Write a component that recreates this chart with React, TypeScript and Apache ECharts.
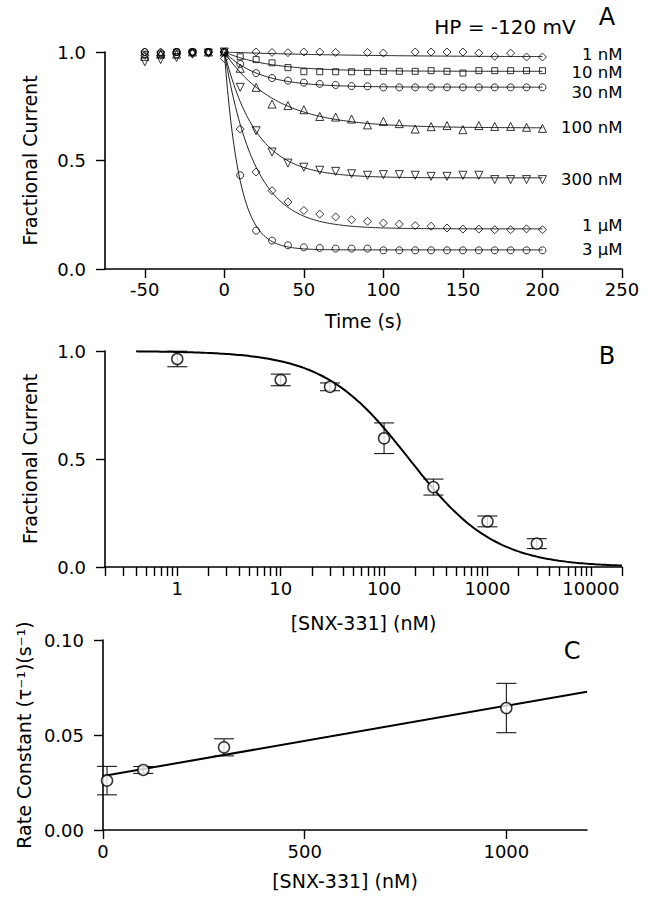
import React, { useEffect, useRef } from 'react';
import * as echarts from 'echarts';

const FONT = '"DejaVu Sans", "Liberation Sans", sans-serif';

// ---------- Panel A: fractional current vs time ----------
const times = [-50, -40, -30, -20, -10, 0, 10, 20, 30, 40, 50, 60, 70, 80, 90, 100, 110, 120, 130, 140, 150, 160, 170, 180, 190, 200];
const concNames = ['1 nM', '10 nM', '30 nM', '100 nM', '300 nM', '1 µM', '3 µM'];
const frac1nM = [1.0, 1.0, 1.0, 1.0, 1.0, 1.0, 1.005, 1.0, 0.998, 0.997, 1.0, 1.0, 0.998, 1.002, 0.998, 0.995, 1.008, 1.0, 1.0, 1.0, 1.0, 0.995, 0.98, 0.995, 0.977, 0.977];
const frac10nM = [0.99, 0.99, 1.0, 1.0, 1.0, 1.0, 0.978, 0.965, 0.95, 0.928, 0.909, 0.909, 0.909, 0.909, 0.909, 0.911, 0.911, 0.911, 0.914, 0.911, 0.903, 0.914, 0.914, 0.914, 0.914, 0.914];
const frac30nM = [1.01, 1.01, 1.0, 1.0, 1.0, 1.0, 0.945, 0.903, 0.88, 0.868, 0.859, 0.853, 0.848, 0.843, 0.842, 0.837, 0.837, 0.837, 0.837, 0.837, 0.837, 0.837, 0.837, 0.837, 0.837, 0.837];
const frac100nM = [0.98, 0.99, 0.99, 1.0, 1.0, 1.0, 0.925, 0.837, 0.76, 0.753, 0.734, 0.703, 0.7, 0.691, 0.664, 0.68, 0.67, 0.645, 0.656, 0.661, 0.642, 0.661, 0.657, 0.657, 0.653, 0.648];
const frac300nM = [0.955, 0.965, 0.975, 0.99, 0.995, 1.0, 0.837, 0.637, 0.539, 0.488, 0.469, 0.455, 0.45, 0.439, 0.432, 0.435, 0.435, 0.432, 0.427, 0.427, 0.432, 0.432, 0.412, 0.412, 0.412, 0.412];
const frac1uM = [0.985, 0.985, 1.0, 0.995, 1.0, 0.97, 0.645, 0.447, 0.361, 0.309, 0.27, 0.253, 0.24, 0.227, 0.22, 0.212, 0.207, 0.2, 0.197, 0.189, 0.184, 0.184, 0.181, 0.181, 0.185, 0.181];
const frac3uM = [1.0, 0.995, 0.99, 1.0, 1.0, 1.0, 0.432, 0.177, 0.131, 0.109, 0.1, 0.097, 0.094, 0.094, 0.094, 0.086, 0.086, 0.086, 0.086, 0.086, 0.086, 0.086, 0.086, 0.086, 0.086, 0.086];
const fracSeries = [frac1nM, frac10nM, frac30nM, frac100nM, frac300nM, frac1uM, frac3uM];
// single-exponential fit parameters
const fitPlateau = [0.977, 0.911, 0.838, 0.65, 0.42, 0.185, 0.088];
const fitTau = [80, 28, 22, 32, 20, 19, 9.5];
const aXTicks = [-50, 0, 50, 100, 150, 200, 250];

// ---------- Panel B: concentration-response ----------
const bConc = [1, 10, 30, 100, 300, 1000, 3000];
const bFrac = [0.963, 0.866, 0.834, 0.596, 0.37, 0.211, 0.108];
const bErr = [0.036, 0.027, 0.018, 0.071, 0.037, 0.025, 0.023];
const hillIC50 = 175;
const hillN = 1.05;
const bXLabels = [1, 10, 100, 1000, 10000];
const bXTicks = [0.2, 0.3, 0.4, 0.5, 0.6, 0.7, 0.8, 0.9, 1, 2, 3, 4, 5, 6, 7, 8, 9, 10, 20, 30, 40, 50, 60, 70, 80, 90, 100, 200, 300, 400, 500, 600, 700, 800, 900, 1000, 2000, 3000, 4000, 5000, 6000, 7000, 8000, 9000, 10000, 20000];

// ---------- Panel C: rate constant ----------
const cConc = [10, 100, 300, 1000];
const cRate = [0.026, 0.0316, 0.0435, 0.0642];
const cErr = [0.0075, 0.0018, 0.0045, 0.013];
const cIntercept = 0.0284;
const cSlope = 3.7e-5;
const cXTicks = [0, 500, 1000];

// style-only settings
const aSymbols = ['diamond', 'rect', 'circle', 'triangle', 'triangle', 'diamond', 'circle'];
const aSymbolRotate = [0, 0, 0, 0, 180, 0, 0];
const aSymbolSize = [8, 6, 7, 8, 8, 8, 7];
const aLabelDy = [-2, 1, 5, 0, 2, -3, 0];

function expCurve(plateau: number, tau: number) {
  const pts: number[][] = [];
  for (let t = 0; t <= 200; t += 1) pts.push([t, plateau + (1 - plateau) * Math.exp(-t / tau)]);
  return pts;
}
function hillCurve() {
  const pts: number[][] = [];
  const lo = Math.log10(0.4), hi = Math.log10(20000);
  for (let i = 0; i <= 200; i++) {
    const x = Math.pow(10, lo + ((hi - lo) * i) / 200);
    pts.push([x, 1 / (1 + Math.pow(x / hillIC50, hillN))]);
  }
  return pts;
}

const axisLineStyle = { color: '#000', width: 1.6 };
const tickStyle = { show: true, length: 9, inside: false, lineStyle: { color: '#000', width: 1.4 } };
const labelStyle = { color: '#000', fontSize: 18, fontFamily: FONT };
const nameStyle = { color: '#000', fontSize: 19, fontFamily: FONT };

function errorBarSeries(xi: number, conc: number[], vals: number[], errs: number[]) {
  return {
    type: 'custom',
    xAxisIndex: xi,
    yAxisIndex: xi,
    z: 2,
    data: conc.map((c, i) => [c, vals[i], errs[i]]),
    encode: { x: 0, y: 1 },
    renderItem: (params: any, api: any) => {
      const x = api.value(0), y = api.value(1), e = api.value(2);
      const top = api.coord([x, y + e]);
      const bot = api.coord([x, y - e]);
      const hw = 10;
      const st = { stroke: '#000', lineWidth: 1 };
      return {
        type: 'group',
        children: [
          { type: 'line', shape: { x1: top[0], y1: top[1], x2: bot[0], y2: bot[1] }, style: st },
          { type: 'line', shape: { x1: top[0] - hw, y1: top[1], x2: top[0] + hw, y2: top[1] }, style: st },
          { type: 'line', shape: { x1: bot[0] - hw, y1: bot[1], x2: bot[0] + hw, y2: bot[1] }, style: st },
        ],
      };
    },
  };
}

export default function App() {
  const ref = useRef<HTMLDivElement>(null);
  useEffect(() => {
    document.body.style.margin = '0';
    if (!ref.current) return;
    const chart = echarts.init(ref.current, null, { renderer: 'svg' });

    const series: any[] = [];
    fracSeries.forEach((vals, i) => {
      series.push({
        type: 'line',
        name: concNames[i] + ' fit',
        xAxisIndex: 0,
        yAxisIndex: 0,
        data: expCurve(fitPlateau[i], fitTau[i]),
        showSymbol: false,
        symbol: 'none',
        lineStyle: { color: '#222', width: 1 },
        z: 2,
        endLabel: {
          show: true,
          formatter: () => concNames[i],
          align: 'right',
          distance: 0,
          offset: [80, aLabelDy[i]],
          color: '#000',
          fontSize: 16.5,
          lineHeight: 16,
          fontFamily: FONT,
        },
      });
      series.push({
        type: 'scatter',
        name: concNames[i],
        xAxisIndex: 0,
        yAxisIndex: 0,
        data: times.map((t, k) => [t, vals[k]]),
        symbol: aSymbols[i],
        symbolRotate: aSymbolRotate[i],
        symbolSize: aSymbolSize[i],
        itemStyle: { color: 'rgba(255,255,255,0)', borderColor: '#000', borderWidth: 1 },
        z: 3,
      });
    });

    series.push({
      type: 'line',
      xAxisIndex: 1,
      yAxisIndex: 1,
      data: hillCurve(),
      showSymbol: false,
      symbol: 'none',
      lineStyle: { color: '#000', width: 2 },
      z: 2,
    });
    series.push(errorBarSeries(1, bConc, bFrac, bErr));
    series.push({
      type: 'scatter',
      xAxisIndex: 1,
      yAxisIndex: 1,
      data: bConc.map((c, i) => [c, bFrac[i]]),
      symbol: 'circle',
      symbolSize: 11,
      itemStyle: { color: '#fff', borderColor: '#000', borderWidth: 1.5 },
      z: 5,
    });

    series.push({
      type: 'line',
      xAxisIndex: 2,
      yAxisIndex: 2,
      data: [[0, cIntercept], [1200, cIntercept + cSlope * 1200]],
      showSymbol: false,
      symbol: 'none',
      lineStyle: { color: '#000', width: 2 },
      z: 2,
    });
    series.push(errorBarSeries(2, cConc, cRate, cErr));
    series.push({
      type: 'scatter',
      xAxisIndex: 2,
      yAxisIndex: 2,
      data: cConc.map((c, i) => [c, cRate[i]]),
      symbol: 'circle',
      symbolSize: 11,
      itemStyle: { color: '#fff', borderColor: '#000', borderWidth: 1.5 },
      z: 5,
    });

    const yAxisBase = (idx: number, max: number, interval: number, digits: number, name: string) => ({
      type: 'value',
      gridIndex: idx,
      min: 0,
      max,
      interval,
      axisLine: { show: true, onZero: false, lineStyle: axisLineStyle },
      axisTick: tickStyle,
      axisLabel: { ...labelStyle, margin: 19, formatter: (v: number) => v.toFixed(digits) },
      splitLine: { show: false },
      name,
      nameLocation: 'middle',
      nameGap: 66,
      nameTextStyle: nameStyle,
    });

    chart.setOption({
      animation: false,
      backgroundColor: '#fff',
      grid: [
        { left: 105, top: 52, width: 517, height: 217, outerBoundsMode: 'none' },
        { left: 105, top: 351, width: 517, height: 216, outerBoundsMode: 'none' },
        { left: 103, top: 640, width: 484, height: 190, outerBoundsMode: 'none' },
      ],
      xAxis: [
        {
          type: 'value',
          gridIndex: 0,
          min: -75,
          max: 250,
          axisLine: { show: true, onZero: false, lineStyle: axisLineStyle },
          axisTick: { ...tickStyle, customValues: aXTicks },
          axisLabel: { ...labelStyle, margin: 11, customValues: aXTicks, formatter: (v: number) => String(v) },
          splitLine: { show: false },
          name: 'Time (s)',
          nameLocation: 'middle',
          nameGap: 42,
          nameTextStyle: nameStyle,
        },
        {
          type: 'log',
          logBase: 10,
          gridIndex: 1,
          min: 0.2,
          max: 20000,
          axisLine: { show: true, onZero: false, lineStyle: axisLineStyle },
          axisTick: { ...tickStyle, customValues: bXTicks },
          axisLabel: { ...labelStyle, margin: 12, customValues: bXLabels, formatter: (v: number) => String(Math.round(v)) },
          splitLine: { show: false },
          minorTick: { show: false },
          name: '[SNX-331] (nM)',
          nameLocation: 'middle',
          nameGap: 46,
          nameTextStyle: nameStyle,
        },
        {
          type: 'value',
          gridIndex: 2,
          min: 0,
          max: 1200,
          axisLine: { show: true, onZero: false, lineStyle: axisLineStyle },
          axisTick: { ...tickStyle, customValues: cXTicks },
          axisLabel: { ...labelStyle, margin: 12, customValues: cXTicks, formatter: (v: number) => String(v) },
          splitLine: { show: false },
          name: '[SNX-331] (nM)',
          nameLocation: 'middle',
          nameGap: 41,
          nameTextStyle: nameStyle,
        },
      ],
      yAxis: [
        yAxisBase(0, 1, 0.5, 1, 'Fractional Current'),
        yAxisBase(1, 1, 0.5, 1, 'Fractional Current'),
        yAxisBase(2, 0.1, 0.05, 2, 'Rate Constant (τ⁻¹)(s⁻¹)'),
      ],
      graphic: [
        { type: 'text', x: 505, y: 27, style: { text: 'HP = -120 mV', fontSize: 20, fontFamily: FONT, fill: '#000', align: 'center', verticalAlign: 'middle' } },
        { type: 'text', x: 607, y: 17, style: { text: 'A', fontSize: 24, fontFamily: FONT, fill: '#000', align: 'center', verticalAlign: 'middle' } },
        { type: 'text', x: 607, y: 356, style: { text: 'B', fontSize: 24, fontFamily: FONT, fill: '#000', align: 'center', verticalAlign: 'middle' } },
        { type: 'text', x: 572, y: 651, style: { text: 'C', fontSize: 24, fontFamily: FONT, fill: '#000', align: 'center', verticalAlign: 'middle' } },
      ],
      series,
    });
    return () => chart.dispose();
  }, []);
  return <div ref={ref} style={{ width: 648, height: 900 }} />;
}
